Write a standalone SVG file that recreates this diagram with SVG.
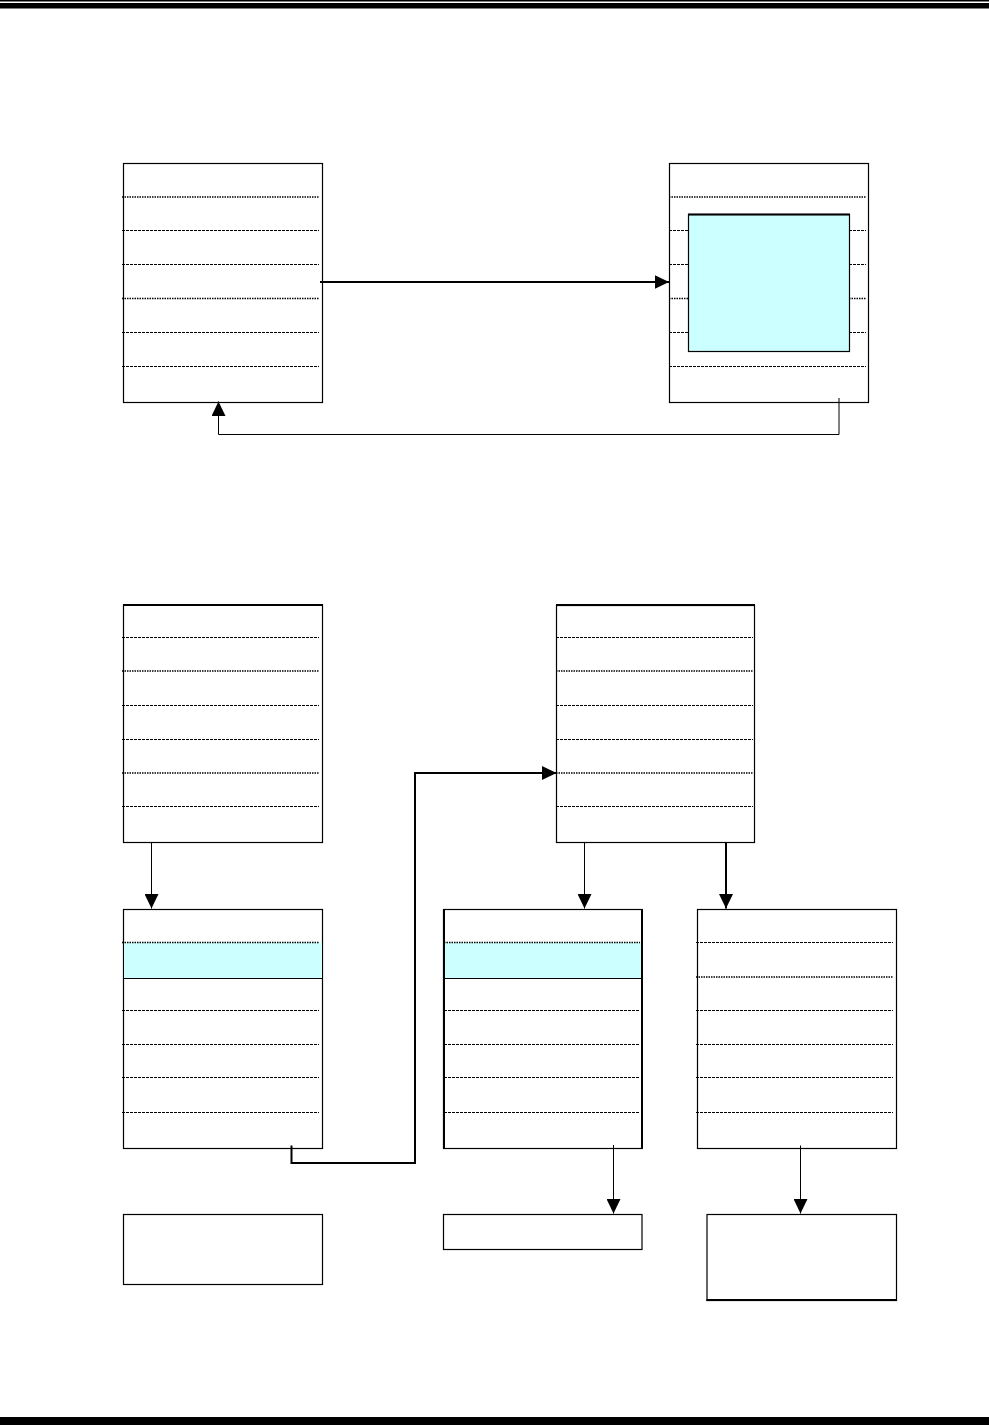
<svg xmlns="http://www.w3.org/2000/svg" width="989" height="1425" viewBox="0 0 989 1425">
<style>
.box{fill:#fff;stroke:#000;stroke-width:1.2}
.cy{fill:#CCFFFF;stroke:none}
.thin{stroke:#000;stroke-width:1;stroke-dasharray:3 1;fill:none}
.bold{stroke:#000;stroke-width:1.4;stroke-dasharray:1.5 1;fill:none}
.solid{stroke:#000;stroke-width:1.2;fill:none}
.c1{stroke:#000;stroke-width:1;fill:none}
.c2{stroke:#000;stroke-width:2;fill:none}
.bar{fill:#000}
</style>
<defs>
<marker id="ah" markerUnits="userSpaceOnUse" markerWidth="15" markerHeight="14" refX="14.5" refY="7" orient="auto" viewBox="0 0 15 14">
<path d="M0,0 L14.5,7 L0,14 z" fill="#000"/>
</marker>
</defs>
<rect x="0" y="1417" width="989" height="8" fill="#fff"/>
<g id="header">
<rect class="bar" x="0" y="0" width="989" height="1.5"/>
<rect class="bar" x="0" y="3" width="989" height="5.5"/>
</g>
<g id="footer">
<rect class="bar" x="0" y="1417" width="989" height="8"/>
</g>

<g id="top-left">
<rect class="box" x="123.5" y="163.5" width="199" height="239"/>
<line class="bold" x1="122" y1="197" x2="319" y2="197"/>
<line class="thin" x1="122" y1="230.5" x2="319" y2="230.5"/>
<line class="thin" x1="122" y1="264.5" x2="319" y2="264.5"/>
<line class="bold" x1="122" y1="298.5" x2="319" y2="298.5"/>
<line class="thin" x1="122" y1="332.5" x2="319" y2="332.5"/>
<line class="thin" x1="122" y1="366.5" x2="319" y2="366.5"/>
</g>

<g id="top-right">
<rect class="box" x="669.5" y="163.5" width="199" height="239"/>
<line class="bold" x1="669" y1="197" x2="866" y2="197"/>
<line class="thin" x1="669" y1="230.5" x2="866" y2="230.5"/>
<line class="thin" x1="669" y1="264.5" x2="866" y2="264.5"/>
<line class="bold" x1="669" y1="298.5" x2="866" y2="298.5"/>
<line class="thin" x1="669" y1="332.5" x2="866" y2="332.5"/>
<line class="thin" x1="669" y1="366.5" x2="866" y2="366.5"/>
<rect x="688.5" y="214.5" width="161" height="137" fill="#CCFFFF" stroke="#000" stroke-width="1.2"/>
<line class="c2" x1="688" y1="214.5" x2="850" y2="214.5"/>
</g>

<g id="left-main">
<rect class="box" x="123.5" y="605" width="199" height="237.5"/>
<line class="c2" x1="123" y1="605" x2="323" y2="605"/>
<line class="thin" x1="122" y1="637.5" x2="319" y2="637.5"/>
<line class="bold" x1="122" y1="671" x2="319" y2="671"/>
<line class="thin" x1="122" y1="705.5" x2="319" y2="705.5"/>
<line class="thin" x1="122" y1="739.5" x2="319" y2="739.5"/>
<line class="bold" x1="122" y1="773" x2="319" y2="773"/>
<line class="thin" x1="122" y1="806.5" x2="319" y2="806.5"/>
</g>

<g id="mid-main">
<rect class="box" x="556.5" y="605.5" width="198" height="237"/>
<line class="c2" x1="556" y1="605" x2="755" y2="605"/>
<line class="thin" x1="556" y1="637.5" x2="753" y2="637.5"/>
<line class="bold" x1="556" y1="671" x2="753" y2="671"/>
<line class="thin" x1="556" y1="705.5" x2="753" y2="705.5"/>
<line class="thin" x1="556" y1="739.5" x2="753" y2="739.5"/>
<line class="bold" x1="556" y1="773" x2="753" y2="773"/>
<line class="thin" x1="556" y1="806.5" x2="753" y2="806.5"/>
</g>

<g id="b1">
<rect class="box" x="123.5" y="909.5" width="199" height="239"/>
<rect class="cy" x="124.1" y="942.5" width="197.8" height="36"/>
<line class="bold" x1="122" y1="942.5" x2="319" y2="942.5"/>
<line class="solid" x1="123" y1="978.5" x2="322.5" y2="978.5"/>
<line class="thin" x1="122" y1="1010.5" x2="319" y2="1010.5"/>
<line class="thin" x1="122" y1="1044.5" x2="319" y2="1044.5"/>
<line class="thin" x1="122" y1="1077.5" x2="319" y2="1077.5"/>
<line class="thin" x1="122" y1="1112.5" x2="319" y2="1112.5"/>
</g>

<g id="b2">
<rect class="box" x="443.5" y="909.5" width="198.5" height="239"/>
<line class="c2" x1="444" y1="909" x2="444" y2="1149"/>
<line class="c2" x1="642" y1="909" x2="642" y2="1149"/>
<rect class="cy" x="445" y="942.5" width="196" height="36"/>
<line class="bold" x1="444" y1="942.5" x2="640" y2="942.5"/>
<line class="solid" x1="444" y1="978.5" x2="642" y2="978.5"/>
<line class="thin" x1="444" y1="1010.5" x2="640" y2="1010.5"/>
<line class="thin" x1="444" y1="1044.5" x2="640" y2="1044.5"/>
<line class="thin" x1="444" y1="1077.5" x2="640" y2="1077.5"/>
<line class="thin" x1="444" y1="1112.5" x2="640" y2="1112.5"/>
</g>

<g id="b3">
<rect class="box" x="697.5" y="909.5" width="199" height="239"/>
<line class="thin" x1="696" y1="942.5" x2="893" y2="942.5"/>
<line class="bold" x1="696" y1="977" x2="893" y2="977"/>
<line class="thin" x1="696" y1="1010.5" x2="893" y2="1010.5"/>
<line class="thin" x1="696" y1="1044.5" x2="893" y2="1044.5"/>
<line class="thin" x1="696" y1="1077.5" x2="893" y2="1077.5"/>
<line class="thin" x1="696" y1="1112.5" x2="893" y2="1112.5"/>
</g>

<g id="b1-bottom">
<rect class="box" x="123.5" y="1214.5" width="199" height="70"/>
</g>
<g id="b2-bottom">
<rect class="box" x="443.5" y="1214.5" width="198.5" height="35" stroke-width="1.6"/>
</g>
<g id="b3-bottom">
<rect class="box" x="707" y="1214.5" width="189.5" height="86"/>
<line class="c2" x1="706.5" y1="1300" x2="897" y2="1300"/>
</g>

<g id="connectors">
<line class="c2" x1="320" y1="282" x2="669" y2="282" marker-end="url(#ah)"/>
<polyline class="c1" points="839,398 839,434.5 218.5,434.5 218.5,401.5" marker-end="url(#ah)"/>
<line class="c1" x1="151.5" y1="842" x2="151.5" y2="908.5" marker-end="url(#ah)"/>
<polyline class="c2" points="291.5,1145.5 291.5,1163 415,1163 415,773 556.5,773" marker-end="url(#ah)"/>
<line class="c1" x1="584.5" y1="842" x2="584.5" y2="908.5" marker-end="url(#ah)"/>
<line class="c2" x1="726" y1="842" x2="726" y2="908.5" marker-end="url(#ah)"/>
<line class="c1" x1="613.5" y1="1145" x2="613.5" y2="1213.5" marker-end="url(#ah)"/>
<line class="c1" x1="800.5" y1="1145.5" x2="800.5" y2="1213.5" marker-end="url(#ah)"/>
</g>
</svg>
